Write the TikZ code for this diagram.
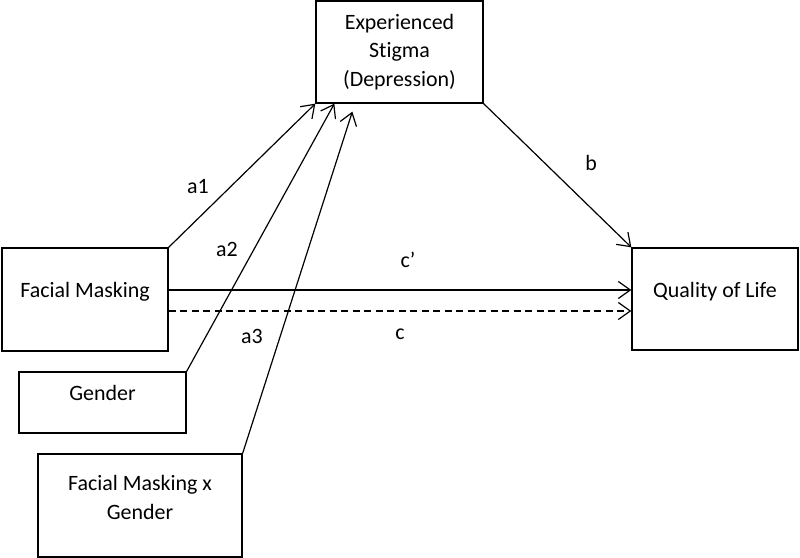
\documentclass[tikz,border=0pt]{standalone}
\usepackage{fontspec}
\setmainfont{Carlito}[Ligatures=NoCommon]
\usetikzlibrary{arrows.meta,calc}
\begin{document}
\begin{tikzpicture}[x=1bp,y=-1bp,
  box/.style={draw=black, line width=1.3bp, rectangle, inner sep=0pt},
  txt/.style={font=\fontsize{22}{28.5}\selectfont, align=center, inner sep=0pt},
  arr/.style={line width=1.2bp, -{Straight Barb[length=12bp,width=17bp]}},
  lab/.style={font=\fontsize{22}{26}\selectfont, inner sep=0pt}]
\useasboundingbox (0,0) rectangle (800,558);
% boxes
\node[box, txt, minimum width=167bp, minimum height=102bp] (st) at (399.5,52) {Experienced\\Stigma\\(Depression)};
\node[box, minimum width=166bp, minimum height=103bp, label={[txt,yshift=7.5bp]center:Facial Masking}] (fm) at (85,299.5) {};
\node[box, minimum width=166bp, minimum height=102bp, label={[txt,yshift=7bp]center:Quality of Life}] (ql) at (715,299) {};
\node[box, minimum width=167bp, minimum height=61bp, label={[txt,yshift=9.5bp]center:Gender}] (gd) at (102.5,402.5) {};
\node[box, minimum width=204bp, minimum height=103bp, label={[txt,yshift=8bp]center:Facial Masking x\\Gender}] (fx) at (140,505.5) {};
% helper coordinates
\coordinate (t2) at ([xshift=19bp]st.south west);
\coordinate (t3) at ([xshift=37bp,yshift=-8bp]st.south west);
\coordinate (cs) at ([yshift=9.5bp]fm.east);
\coordinate (ce) at (cs -| ql.west);
\coordinate (ds) at ([yshift=-11.5bp]fm.east);
\coordinate (de) at (ds -| ql.west);
% connectors
\draw[arr] (fm.north east) -- (st.south west);
\draw[arr] (gd.north east) -- (t2);
\draw[arr] (fx.north east) -- (t3);
\draw[arr] (st.south east) -- (ql.north west);
\draw[arr] (cs) -- (ce);
\draw[arr, dash pattern=on 7bp off 4.5bp] (ds) -- (de);
% labels
\node[lab] (la1) at (198,187) {a1};
\node[lab] (la2) at (227,249) {a2};
\node[lab] (la3) at (252,336) {a3};
\node[lab] (lb) at (591,163) {b};
\node[lab] (lcp) at (408,260) {c’};
\node[lab] (lc) at (400,334) {c};
\end{tikzpicture}
\end{document}
